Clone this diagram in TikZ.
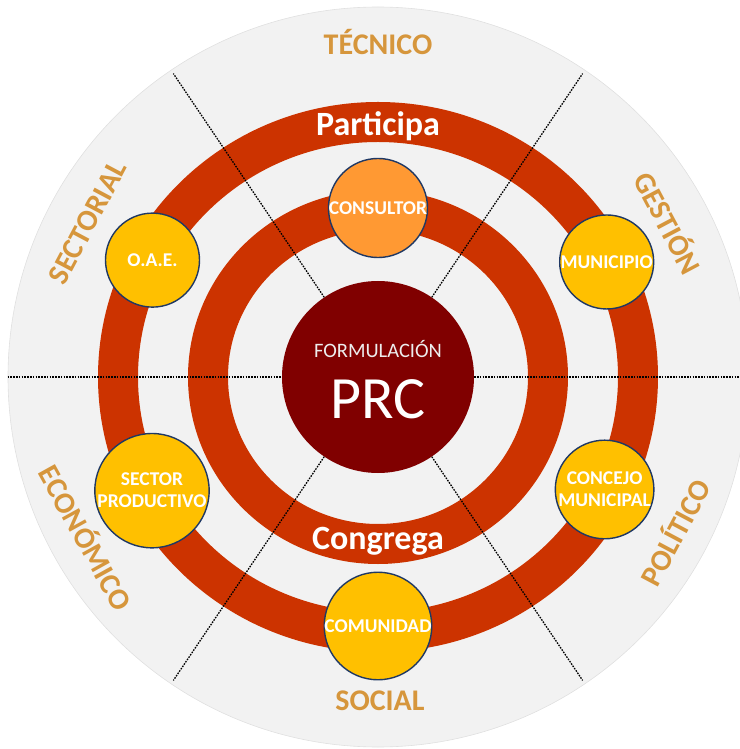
\documentclass[tikz,border=0pt]{standalone}
\usepackage{fontspec}
\setmainfont{Carlito}
\usetikzlibrary{positioning}
\definecolor{discgrey}{RGB}{242,242,242}
\definecolor{ringred}{RGB}{204,51,0}
\definecolor{prcred}{RGB}{128,0,0}
\definecolor{actoryellow}{RGB}{255,192,0}
\definecolor{actororange}{RGB}{255,153,51}
\definecolor{actorline}{RGB}{31,56,100}
\definecolor{areagold}{RGB}{214,150,60}
\tikzset{
    disc/.style={circle, fill=discgrey, draw=black!12, line width=0.6pt,
                 minimum size=740pt, inner sep=0pt},
    ring/.style={draw=ringred, line width=40pt},
    divider/.style={line width=1.3pt, dash pattern=on 1.6pt off 1.2pt},
    core/.style={circle, fill=prcred, minimum size=192pt, inner sep=0pt,
                 text=white, align=center},
    actor/.style={circle, fill=actoryellow, draw=actorline, line width=1.4pt,
                  minimum size=94pt, inner sep=0pt, text=white, align=center,
                  font=\bfseries\fontsize{19.5}{22}\selectfont},
    area/.style={text=areagold, font=\bfseries\fontsize{30}{30}\selectfont},
    verb/.style={text=white, font=\bfseries\fontsize{34}{34}\selectfont},
}

\begin{document}
\begin{tikzpicture}[x=1pt, y=1pt]
    \useasboundingbox (-378,-372) rectangle (361,377);

    \node[disc] (disc) at (0,0) {};
    \draw[ring] (0,0) ellipse [x radius=260, y radius=255];
    \draw[ring] (0,0) ellipse [x radius=170, y radius=167];

    \node[core] (prc) at (0,0) {};
    \node[text=white!93!black, font=\fontsize{20.5}{20}\selectfont]
        (formulacion) at (0,28) {FORMULACIÓN};
    \node[text=white, font=\fontsize{60}{60}\selectfont]
        (prctext) at (0,-22) {PRC};

    % sector dividers
    \draw[divider] (disc.180) -- (prc.180);
    \draw[divider] (prc.0) -- (disc.0);
    \foreach \a in {56,124,236,304}
        \draw[divider] (prc.\a) -- (\a:366);

    \node[verb] (participa) at (0,251) {Participa};
    \node[verb] (congrega) at (0,-164) {Congrega};

    \node[actor, fill=actororange] (consultor) at (90:169) {CONSULTOR};
    \node[actor] (oae) at (152.6:254) {O.A.E.};
    \node[actor] (municipio) at (26.7:256) {MUNICIPIO};
    \node[actor] (concejo) at (-26.4:253) {CONCEJO\\MUNICIPAL};
    \node[actor] (sector) at (206.7:253) {SECTOR\\PRODUCTIVO};
    \node[actor] (comunidad) at (0,-249) {COMUNIDAD};

    \node[area] (tecnico) at (0,335) {TÉCNICO};
    \node[area] (social) at (2,-324) {SOCIAL};
    \node[area, rotate=62] (sectorial) at (152:329) {SECTORIAL};
    \node[area, rotate=-62] (gestion) at (28:330) {GESTIÓN};
    \node[area, rotate=-61] (economico) at (208.8:332) {ECONÓMICO};
    \node[area, rotate=62] (politico) at (-27.6:334) {POLÍTICO};
\end{tikzpicture}
\end{document}
